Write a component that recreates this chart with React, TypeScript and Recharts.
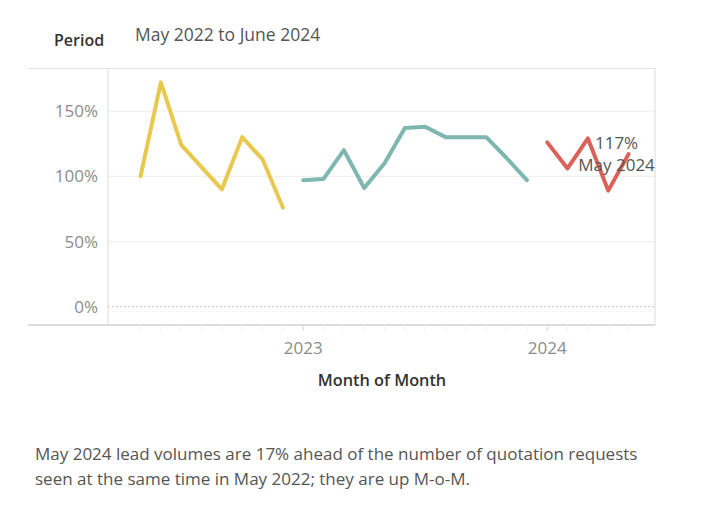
import { CartesianGrid, Line, LineChart, ReferenceLine, XAxis, YAxis } from 'recharts'

// Month index 0 = May 2022 ... 24 = May 2024
const MONTHS = [
  'May 2022', 'Jun 2022', 'Jul 2022', 'Aug 2022', 'Sep 2022', 'Oct 2022', 'Nov 2022', 'Dec 2022',
  'Jan 2023', 'Feb 2023', 'Mar 2023', 'Apr 2023', 'May 2023', 'Jun 2023', 'Jul 2023', 'Aug 2023',
  'Sep 2023', 'Oct 2023', 'Nov 2023', 'Dec 2023',
  'Jan 2024', 'Feb 2024', 'Mar 2024', 'Apr 2024', 'May 2024',
]
const VALUES_2022 = [100, 172, 124, 107, 90, 130, 113, 76]
const VALUES_2023 = [97, 98, 120, 91, 110, 137, 138, 130, 130, 130, 114, 97]
const VALUES_2024 = [126, 106, 129, 89, 117]
const Y_TICKS = [0, 50, 100, 150]
const YEAR_TICKS: Record<number, string> = { 8: '2023', 20: '2024' }

const YELLOW = '#e9c84f'
const TEAL = '#7db7af'
const RED = '#da6258'
const FONT = '"Open Sans", sans-serif'

const rows = MONTHS.map((m, i) => {
  const i23 = i - VALUES_2022.length
  const i24 = i23 - VALUES_2023.length
  return {
    idx: i,
    month: m,
    y2022: i < VALUES_2022.length ? VALUES_2022[i] : null,
    y2023: i23 >= 0 && i23 < VALUES_2023.length ? VALUES_2023[i23] : null,
    y2024: i24 >= 0 ? VALUES_2024[i24] : null,
  }
})
const LAST = rows.length - 1

function MonthTick(props: any) {
  const { x, y, payload } = props
  const label = YEAR_TICKS[payload.value]
  return (
    <g>
      <line x1={x} x2={x} y1={y - 8} y2={y - 2} stroke={label ? '#d9d9d9' : '#f4f4f4'} />
      {label && (
        <text x={x} y={y + 21} textAnchor="middle" fill="#8c8c8c" fontSize={17} fontFamily={FONT}>
          {label}
        </text>
      )}
    </g>
  )
}

function LastLabel(props: any) {
  const { x, y, index, value } = props
  if (index !== LAST) return null
  return (
    <text textAnchor="middle" fill="#555" fontSize={17} fontFamily={FONT}>
      <tspan x={x - 12} y={y - 5}>{`${value}%`}</tspan>
      <tspan x={x - 12} y={y + 17}>{MONTHS[index]}</tspan>
    </text>
  )
}

export default function App() {
  return (
    <div style={{ position: 'relative', width: 700, height: 512, fontFamily: FONT, background: '#fff' }}>
      <div style={{ position: 'absolute', left: 46, top: 21, fontSize: 16, fontWeight: 600, color: '#333' }}>Period</div>
      <div style={{ position: 'absolute', left: 127, top: 14, fontSize: 17.5, color: '#555' }}>May 2022 to June 2024</div>

      <div style={{ position: 'absolute', left: 20, top: 60, width: 627, height: 1, background: '#e3e3e3' }} />
      <div style={{ position: 'absolute', left: 20, top: 316, width: 627, height: 2, background: '#dcdcdc' }} />

      <div style={{ position: 'absolute', left: 0, top: 0 }}>
        <LineChart width={700} height={400} data={rows} margin={{ top: 60, right: 53, bottom: 53, left: 30 }}>
          <CartesianGrid horizontal vertical={false} horizontalValues={[50, 100, 150]} stroke="#ececec" />
          <ReferenceLine y={0} stroke="#bdbdbd" strokeDasharray="2 2" />
          <ReferenceLine x={25.3} stroke="#dcdcdc" ifOverflow="visible" />
          <XAxis
            dataKey="idx"
            type="number"
            domain={[-1.6, 25.3]}
            ticks={MONTHS.map((_, i) => i)}
            interval={0}
            height={30}
            axisLine={false}
            tickLine={false}
            tick={<MonthTick />}
          />
          <YAxis
            type="number"
            domain={[-14, 183]}
            ticks={Y_TICKS}
            allowDataOverflow
            width={70}
            tickSize={0}
            tickMargin={10}
            tickLine={false}
            axisLine={{ stroke: '#dcdcdc' }}
            tickFormatter={(v) => `${v}%`}
            tick={{ fontSize: 17, fill: '#8c8c8c', fontFamily: FONT }}
          />
          <Line dataKey="y2022" stroke={YELLOW} strokeWidth={4} dot={false} isAnimationActive={false} strokeLinejoin="round" strokeLinecap="round" />
          <Line dataKey="y2023" stroke={TEAL} strokeWidth={4} dot={false} isAnimationActive={false} strokeLinejoin="round" strokeLinecap="round" />
          <Line
            dataKey="y2024"
            stroke={RED}
            strokeWidth={4}
            dot={false}
            isAnimationActive={false}
            strokeLinejoin="round"
            strokeLinecap="round"
            label={<LastLabel />}
          />
        </LineChart>
      </div>

      <div style={{ position: 'absolute', left: 0, width: 748, top: 361, textAlign: 'center', fontSize: 16.3, fontWeight: 600, color: '#333' }}>
        Month of Month
      </div>

      <div style={{ position: 'absolute', left: 27, top: 433, width: 680, fontSize: 17, lineHeight: '25px', color: '#555' }}>
        May 2024 lead volumes are 17% ahead of the number of quotation requests
        <br />
        seen at the same time in May 2022; they are up M-o-M.
      </div>
    </div>
  )
}
